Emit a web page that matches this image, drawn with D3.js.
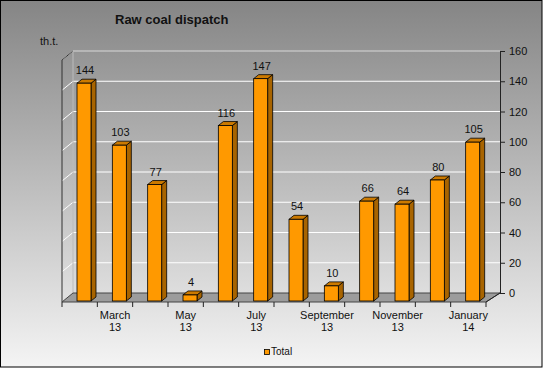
<!DOCTYPE html>
<html>
<head>
<meta charset="utf-8">
<script src="https://cdn.jsdelivr.net/npm/d3@7"></script>
<style>
  body { margin: 0; }
  svg { display: block; font-family: "Liberation Sans", Arial, sans-serif; }
</style>
</head>
<body>
<svg id="chart"></svg>
<script>
let months = ["February 13", "March 13", "April 13", "May 13", "June 13", "July 13",
              "August 13", "September 13", "October 13", "November 13", "December 13", "January 14"];
let totals = [144, 103, 77, 4, 116, 147, 54, 10, 66, 64, 80, 105];
let valueTicks = [0, 20, 40, 60, 80, 100, 120, 140, 160];

let w = 543;
let h = 368;
let svg = d3.select('#chart').attr('width', w).attr('height', h);

// depth of the 3d box and of the bars
let depthX = 12, depthY = 9;
let barDx = 5, barDy = 4;
let barW = 14;

let defs = svg.append('defs');
let grad = defs.append('linearGradient')
    .attr('id', 'bg').attr('x1', 0).attr('y1', 0).attr('x2', 0).attr('y2', 1);
grad.append('stop').attr('offset', '0%').attr('stop-color', '#858585');
grad.append('stop').attr('offset', '100%').attr('stop-color', '#f4f4f4');

svg.append('rect')
    .attr('x', 0.5).attr('y', 0.5).attr('width', w - 1.5).attr('height', h - 1.5)
    .attr('fill', 'url(#bg)').attr('stroke', '#000');

let x = d3.scaleBand().domain(months).range([62, 486]);
let y = d3.scaleLinear().domain([0, 160]).range([293, 51]);

let left = 62 + depthX - 1, right = 500;

// left wall gridlines
svg.selectAll('.lgrid')
    .data(valueTicks.slice(1))
    .enter()
    .append('line')
    .attr('x1', 62).attr('x2', left)
    .attr('y1', d => y(d) + depthY).attr('y2', d => y(d))
    .attr('stroke', '#fff').attr('stroke-width', 1);

// back wall gridlines
svg.selectAll('.grid')
    .data(valueTicks.slice(1))
    .enter()
    .append('line')
    .attr('x1', left).attr('x2', right)
    .attr('y1', d => y(d)).attr('y2', d => y(d))
    .attr('stroke', d => d === 160 ? '#d8d8d8' : '#fff').attr('stroke-width', 1);

// left wall outline
svg.append('path')
    .attr('d', `M62,${y(0) + depthY}V${y(160) + depthY}L${left},${y(160)}`)
    .attr('fill', 'none').attr('stroke', '#333');
svg.append('line')
    .attr('x1', left).attr('x2', left).attr('y1', y(160)).attr('y2', y(0))
    .attr('stroke', '#bbb');

// floor
svg.append('path')
    .attr('d', `M62,${y(0) + depthY}L486,${y(0) + depthY}L${right},${y(0)}L${left},${y(0)}Z`)
    .attr('fill', '#9c9c9c').attr('stroke', '#444');

// bars
let bars = svg.selectAll('.bar')
    .data(totals)
    .enter()
    .append('g')
    .attr('class', 'bar');

let bx = (d, i) => x(months[i]) + 15;
let yb = y(0) + 8;
let yt = d => y(d) + 8;

bars.append('path')
    .attr('d', (d, i) => {
        let x0 = bx(d, i);
        return `M${x0 + barW},${yt(d)}L${x0 + barW + barDx},${yt(d) - barDy}L${x0 + barW + barDx},${yb - barDy}L${x0 + barW},${yb}Z`;
    })
    .attr('fill', '#a86400').attr('stroke', '#000').attr('stroke-width', 0.8);

bars.append('path')
    .attr('d', (d, i) => {
        let x0 = bx(d, i);
        return `M${x0},${yt(d)}L${x0 + barDx},${yt(d) - barDy}L${x0 + barW + barDx},${yt(d) - barDy}L${x0 + barW},${yt(d)}Z`;
    })
    .attr('fill', '#cc7a00').attr('stroke', '#000').attr('stroke-width', 0.8);

bars.append('rect')
    .attr('x', (d, i) => bx(d, i))
    .attr('y', d => yt(d))
    .attr('width', barW)
    .attr('height', d => yb - yt(d))
    .attr('fill', '#ff9900').attr('stroke', '#000').attr('stroke-width', 0.8);

bars.append('text')
    .attr('x', (d, i) => bx(d, i) + barW / 2 + 1)
    .attr('y', d => yt(d) - 9)
    .attr('text-anchor', 'middle')
    .attr('font-size', 11)
    .attr('fill', '#111')
    .text(d => d);

// right value axis
let axis = svg.append('g')
    .attr('transform', `translate(${right},0)`)
    .call(d3.axisRight(y).tickValues(valueTicks).tickSize(5).tickSizeOuter(0).tickPadding(4));
axis.select('.domain').attr('stroke', '#222');
axis.selectAll('line').attr('stroke', '#222');
axis.selectAll('text').attr('font-size', 11).attr('fill', '#111')
    .attr('font-family', '"Liberation Sans", Arial, sans-serif');
svg.append('line')
    .attr('x1', right).attr('y1', y(0)).attr('x2', 486).attr('y2', y(0) + depthY)
    .attr('stroke', '#222');

// category axis ticks
let bounds = months.map(m => x(m)).concat([x.range()[1]]);
svg.selectAll('.ctick')
    .data(bounds)
    .enter()
    .append('line')
    .attr('x1', d => d).attr('x2', d => d)
    .attr('y1', y(0) + depthY).attr('y2', y(0) + depthY + 5)
    .attr('stroke', '#222');

let labels = svg.selectAll('.clabel')
    .data(months.filter((m, i) => i % 2 === 1))
    .enter()
    .append('text')
    .attr('text-anchor', 'middle')
    .attr('font-size', 11)
    .attr('fill', '#111');
labels.append('tspan')
    .attr('x', d => x(d) + x.bandwidth() / 2)
    .attr('y', 319)
    .text(d => d.split(' ')[0]);
labels.append('tspan')
    .attr('x', d => x(d) + x.bandwidth() / 2)
    .attr('y', 331)
    .text(d => d.split(' ')[1]);

// title and unit
svg.append('text')
    .attr('x', 115).attr('y', 24)
    .attr('font-size', 13).attr('font-weight', 'bold')
    .attr('fill', '#111')
    .text('Raw coal dispatch');

svg.append('text')
    .attr('x', 40).attr('y', 45)
    .attr('font-size', 11).attr('fill', '#111')
    .text('th.t.');

// legend
svg.append('rect')
    .attr('x', 264.5).attr('y', 349.5).attr('width', 5).attr('height', 5)
    .attr('fill', '#ff9900').attr('stroke', '#000').attr('stroke-width', 0.8);
svg.append('text')
    .attr('x', 271).attr('y', 355)
    .attr('font-size', 10).attr('fill', '#111')
    .text('Total');
</script>
</body>
</html>
